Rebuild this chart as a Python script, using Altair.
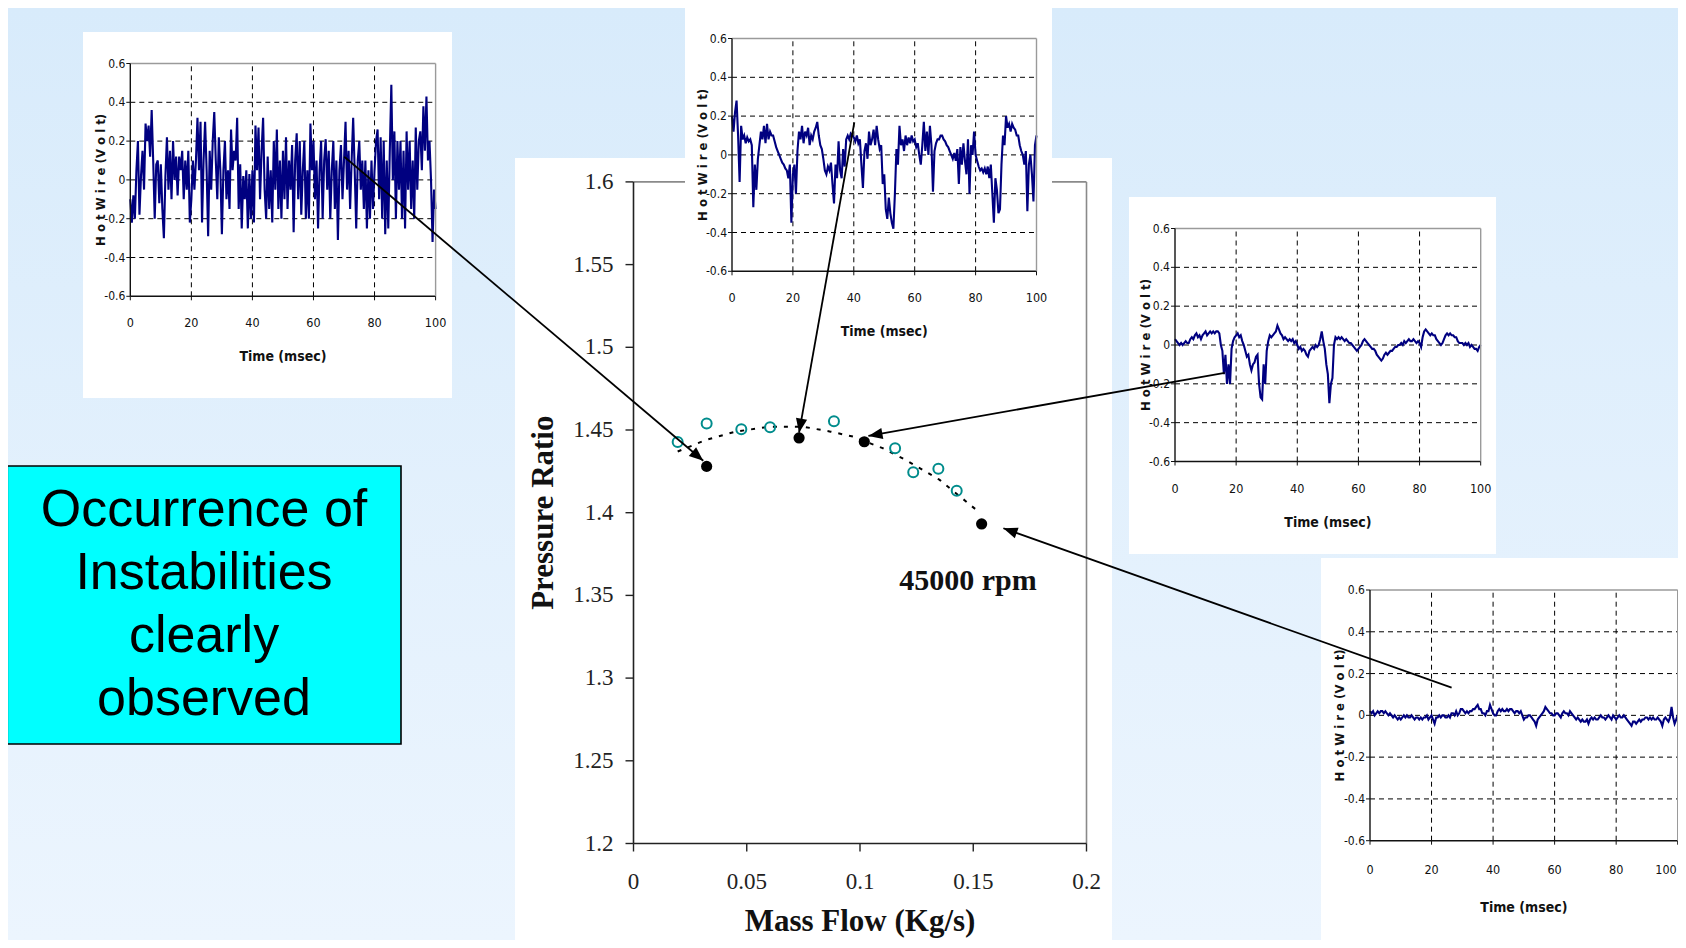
import math
import altair as alt
import pandas as pd
import numpy as np

W, H = 1670, 932
M = 8  # page margin of the html page

# ---------------- main chart data ----------------
mass_open = [0.0195, 0.0323, 0.0476, 0.0603, 0.0885, 0.1155, 0.1235, 0.1346, 0.1427]
pr_open = [1.4427, 1.4540, 1.4504, 1.4516, 1.4553, 1.4389, 1.4244, 1.4266, 1.4133]
mass_filled = [0.0323, 0.0731, 0.1019, 0.1537]
pr_filled = [1.4280, 1.4452, 1.4429, 1.3932]
trend_mass = [0.0195, 0.032, 0.045, 0.06, 0.075, 0.087, 0.097, 0.11, 0.12, 0.135, 0.152]
trend_pr = [1.437, 1.444, 1.449, 1.452, 1.452, 1.449, 1.446, 1.439, 1.432, 1.420, 1.401]

main_xticks = [0, 0.05, 0.1, 0.15, 0.2]
main_xlabels = ["0", "0.05", "0.1", "0.15", "0.2"]
main_yticks = [1.2, 1.25, 1.3, 1.35, 1.4, 1.45, 1.5, 1.55, 1.6]
main_ylabels = ["1.2", "1.25", "1.3", "1.35", "1.4", "1.45", "1.5", "1.55", "1.6"]

# arrows (start in an inset, tip at a measured point), in mass-flow / pressure-ratio units
arrow_x0 = [-0.1277, 0.0975, 0.2610, 0.3612]
arrow_y0 = [1.6152, 1.6360, 1.4846, 1.2942]
arrow_x1 = [0.0308, 0.0731, 0.1037, 0.1633]
arrow_y1 = [1.4314, 1.4484, 1.4464, 1.3906]

box_lines = ["Occurrence of", "Instabilities", "clearly", "observed"]

# ---------------- hot-wire signals (0.5 ms sampling) ----------------
sig1 = [
    -0.10, -0.22, -0.08, -0.20, 0.05, 0.20, -0.18, 0.02, 0.15, -0.05,
    0.29, 0.20, 0.28, 0.12, 0.36, 0.10, -0.20, 0.08, 0.10, -0.12,
    0.08, -0.15, -0.30, 0.02, 0.22, -0.05, 0.15, -0.10, 0.20, 0.00,
    0.12, -0.08, 0.12, 0.05, 0.15, -0.10, 0.10, -0.05, 0.15, -0.22,
    -0.10, 0.10, -0.05, 0.10, 0.32, 0.05, 0.30, -0.22, 0.10, 0.30,
    0.05, -0.29, 0.15, -0.05, 0.20, 0.35, 0.10, -0.10, 0.22, 0.05,
    -0.28, 0.05, 0.20, -0.10, 0.05, -0.15, 0.26, 0.05, 0.15, 0.10,
    0.32, -0.15, 0.08, -0.25, 0.02, -0.10, 0.05, -0.25, 0.03, -0.20,
    0.05, -0.22, 0.28, 0.05, 0.27, -0.10, 0.15, 0.32, -0.05, -0.20,
    0.12, -0.15, 0.05, -0.22, 0.20, -0.05, 0.26, -0.15, 0.10, -0.20,
    0.15, -0.10, 0.22, -0.15, 0.10, -0.05, 0.18, -0.27, 0.10, 0.24,
    -0.10, 0.20, -0.18, 0.05, 0.20, -0.20, 0.05, -0.20, 0.29, 0.05,
    0.20, -0.10, 0.10, -0.25, 0.05, 0.20, -0.20, 0.10, 0.21, -0.05,
    0.15, -0.20, 0.05, 0.20, -0.15, 0.10, -0.31, 0.05, 0.18, -0.10,
    0.10, 0.30, -0.05, 0.15, -0.15, 0.10, 0.32, 0.05, -0.25, 0.10,
    0.20, -0.05, 0.10, -0.15, 0.10, -0.25, 0.05, -0.20, 0.10, -0.15,
    0.05, 0.20, 0.26, -0.10, 0.22, -0.20, 0.20, -0.28, 0.10, -0.25,
    0.15, 0.49, 0.00, 0.25, -0.20, 0.20, -0.05, 0.20, -0.20, 0.15,
    -0.25, 0.25, -0.05, 0.20, -0.15, 0.10, -0.20, 0.27, -0.05, 0.20,
    0.25, 0.05, 0.38, 0.15, 0.43, 0.10, 0.20, 0.00, -0.32, -0.05,
    -0.15,
]
sig2 = [
    0.20, 0.12, 0.22, 0.28, 0.10, -0.14, 0.15, 0.08, 0.10, 0.06,
    0.09, 0.07, 0.08, 0.05, -0.27, -0.05, -0.18, -0.02, 0.05, 0.12,
    0.08, 0.15, 0.06, 0.16, 0.08, 0.12, 0.10, 0.10, 0.07, 0.04,
    0.02, 0.00, -0.02, -0.04, -0.05, -0.07, -0.08, -0.12, -0.05, -0.35,
    -0.10, -0.05, -0.20, 0.02, 0.12, 0.08, 0.15, 0.06, 0.12, 0.10,
    0.14, 0.05, 0.10, 0.08, 0.12, 0.14, 0.17, 0.10, 0.05, 0.03,
    -0.02, -0.08, -0.10, -0.06, -0.08, -0.04, -0.15, -0.25, -0.05, -0.12,
    0.07, -0.08, -0.12, 0.03, -0.06, 0.08, 0.10, 0.08, 0.11, 0.10,
    0.09, 0.07, 0.10, 0.06, 0.08, -0.05, -0.17, 0.02, 0.06, -0.02,
    0.12, 0.05, 0.08, 0.13, 0.05, 0.15, 0.08, 0.03, 0.05, -0.15,
    -0.10, -0.28, -0.33, -0.22, -0.30, -0.35, -0.38, -0.20, 0.03, -0.05,
    0.15, 0.05, 0.08, 0.02, 0.10, 0.05, 0.09, 0.06, 0.10, 0.07,
    0.08, 0.04, 0.06, 0.00, -0.05, 0.05, 0.17, 0.02, 0.12, 0.00,
    0.15, 0.05, -0.19, 0.02, 0.06, 0.08, 0.08, 0.10, 0.10, 0.08,
    0.07, 0.05, 0.04, 0.02, 0.00, -0.02, 0.01, -0.03, 0.03, -0.15,
    0.04, -0.05, 0.06, -0.03, -0.10, 0.08, -0.20, 0.05, 0.00, 0.12,
    0.00, -0.03, -0.06, -0.08, -0.07, -0.09, -0.07, -0.10, -0.06, -0.12,
    -0.05, -0.20, -0.35, -0.12, -0.18, -0.30, -0.28, -0.05, 0.10, 0.05,
    0.20, 0.14, 0.16, 0.12, 0.16, 0.14, 0.13, 0.10, 0.10, 0.05,
    0.02, 0.00, -0.05, 0.02, -0.29, -0.05, 0.00, -0.10, -0.24, 0.05,
    0.10,
]
sig3 = [
    0.03, 0.02, 0.01, 0.00, 0.01, 0.00, 0.01, 0.02, 0.01, 0.01,
    0.03, 0.04, 0.03, 0.05, 0.06, 0.04, 0.05, 0.03, 0.05, 0.06,
    0.07, 0.05, 0.06, 0.07, 0.06, 0.07, 0.06, 0.07, 0.07, 0.06,
    0.00, -0.03, -0.15, -0.05, -0.20, -0.10, -0.20, -0.02, 0.02, 0.04,
    0.05, 0.06, 0.04, 0.05, 0.02, 0.00, -0.03, -0.06, -0.05, -0.10,
    -0.13, -0.10, -0.09, -0.06, -0.05, -0.20, -0.27, -0.28, -0.10, -0.20,
    -0.03, 0.02, 0.05, 0.04, 0.05, 0.06, 0.07, 0.10, 0.08, 0.06,
    0.05, 0.03, 0.04, 0.03, 0.02, 0.03, 0.02, 0.03, 0.01, 0.02,
    0.00, -0.02, -0.01, -0.03, -0.02, -0.03, -0.05, -0.06, -0.03, -0.02,
    -0.01, -0.02, 0.00, -0.01, 0.00, 0.03, 0.07, 0.02, -0.02, -0.10,
    -0.15, -0.30, -0.20, -0.17, 0.00, 0.04, 0.03, 0.04, 0.03, 0.04,
    0.03, 0.02, 0.03, 0.02, 0.01, 0.01, 0.00, -0.01, -0.02, -0.03,
    -0.02, -0.01, 0.00, 0.02, 0.03, 0.02, 0.01, 0.00, -0.01, -0.02,
    -0.02, -0.03, -0.05, -0.06, -0.07, -0.08, -0.07, -0.05, -0.04, -0.05,
    -0.04, -0.03, -0.03, -0.02, -0.01, -0.01, 0.00, 0.00, 0.01, 0.00,
    0.02, 0.01, 0.02, 0.03, 0.02, 0.02, 0.03, 0.02, 0.01, 0.02,
    0.01, -0.01, 0.04, 0.07, 0.08, 0.07, 0.06, 0.05, 0.06, 0.05,
    0.05, 0.03, 0.02, 0.01, 0.00, 0.01, 0.03, 0.05, 0.06, 0.05,
    0.06, 0.05, 0.05, 0.04, 0.04, 0.02, 0.01, 0.01, 0.01, 0.00,
    0.01, 0.00, 0.01, -0.01, 0.00, -0.01, -0.02, -0.02, -0.03, -0.01,
    0.00,
]
sig4 = [
    0.02, 0.01, 0.02, 0.00, 0.01, 0.02, 0.01, 0.02, 0.02, 0.01,
    0.02, 0.01, 0.00, 0.01, 0.00, -0.01, 0.00, -0.01, -0.02, -0.01,
    -0.02, -0.01, 0.00, -0.01, 0.00, -0.01, -0.01, 0.00, -0.01, -0.02,
    -0.01, -0.01, -0.02, -0.01, -0.02, -0.01, -0.01, 0.00, -0.02, -0.01,
    0.00, -0.02, -0.04, -0.01, -0.01, 0.00, -0.01, 0.00, 0.00, -0.01,
    -0.01, 0.00, -0.01, 0.01, 0.01, 0.00, 0.02, 0.00, 0.01, 0.03,
    0.03, 0.02, 0.01, 0.02, 0.01, 0.02, 0.02, 0.03, 0.03, 0.04,
    0.05, 0.03, 0.03, 0.01, 0.01, 0.00, 0.02, 0.02, 0.05, 0.03,
    0.01, 0.00, 0.00, 0.02, 0.03, 0.02, 0.03, 0.02, 0.02, 0.03,
    0.02, 0.03, 0.03, 0.02, 0.01, 0.02, 0.02, 0.01, 0.02, 0.00,
    -0.02, -0.01, -0.01, 0.00, 0.00, -0.01, -0.02, -0.03, -0.05, -0.02,
    -0.01, 0.00, 0.01, 0.02, 0.04, 0.03, 0.02, 0.01, 0.01, 0.00,
    0.00, 0.01, 0.01, 0.00, -0.01, 0.01, 0.02, 0.01, 0.01, 0.00,
    0.02, 0.01, 0.00, -0.01, -0.02, -0.01, -0.02, -0.03, -0.02, -0.03,
    -0.03, -0.02, -0.04, -0.02, -0.01, -0.02, -0.01, -0.02, -0.02, -0.01,
    0.00, -0.01, -0.01, -0.02, -0.01, 0.00, -0.01, -0.02, 0.00, -0.01,
    -0.02, -0.01, 0.00, -0.01, -0.01, 0.00, -0.01, -0.02, -0.03, -0.04,
    -0.05, -0.03, -0.03, -0.04, -0.03, -0.02, -0.03, -0.02, -0.02, -0.01,
    -0.01, -0.02, -0.01, -0.02, -0.01, -0.02, -0.02, -0.01, -0.02, -0.03,
    -0.05, -0.02, -0.01, -0.02, -0.03, -0.01, 0.04, -0.01, -0.04, -0.02,
    0.00,
]
time_ms = list(np.arange(len(sig1)) * 0.5)  # sampling grid

inset_xticks = [0, 20, 40, 60, 80, 100]
inset_xlabels = ["0", "20", "40", "60", "80", "100"]
inset_yticks = [-0.6, -0.4, -0.2, 0, 0.2, 0.4, 0.6]
inset_ylabels = ["-0.6", "-0.4", "-0.2", "0", "0.2", "0.4", "0.6"]
inset_xgrid = [20, 40, 60, 80]
inset_ygrid = [-0.4, -0.2, 0, 0.2, 0.4]

# ---------------- layout (window pixels) ----------------
SERIF = "Liberation Serif, Times New Roman, serif"
NARROW = "Liberation Sans Narrow, Arial Narrow, DejaVu Sans Condensed, Roboto Condensed, Liberation Sans, Arial, sans-serif"
SANS = "Liberation Sans, Arial, sans-serif"

MAIN_X = (633.5, 1086.5)      # 0 -> 0.2
MAIN_Y = (843.5, 181.9)       # 1.2 -> 1.6
MAIN_PANEL = (515, 158, 1112, 948)

INSETS = [
    dict(sig=sig1, plot=(130.3, 435.6, 63.5, 296.3), panel=(83, 32, 452, 398), xl=27, tt=61, yt=-29, edge=False),
    dict(sig=sig2, plot=(732.0, 1036.5, 38.5, 271.3), panel=(685, 5, 1052, 345), xl=27, tt=61, yt=-29, edge=False),
    dict(sig=sig3, plot=(1175.0, 1480.7, 228.5, 461.5), panel=(1129, 197, 1496, 554), xl=27, tt=61, yt=-29, edge=False),
    dict(sig=sig4, plot=(1370.0, 1677.7, 590.0, 840.7), panel=(1321, 558, 1686, 948), xl=29, tt=67, yt=-30, edge=True),
]

one = pd.DataFrame({"k": [0]})


def rect_px(box, **kw):
    return alt.Chart(one).mark_rect(**kw).encode(
        x=alt.value(box[0] - M), x2=alt.value(box[2] - M),
        y=alt.value(box[1] - M), y2=alt.value(box[3] - M))


def make_inset(cfg):
    x0, x1, yt, yb = cfg["plot"]
    xs = alt.Scale(domain=[0, 100], range=[x0 - M, x1 - M], nice=False, zero=False)
    ys = alt.Scale(domain=[-0.6, 0.6], range=[yb - M, yt - M], nice=False, zero=False)

    def X(f):
        return alt.X(f, type="quantitative", scale=xs, axis=None)

    def Y(f):
        return alt.Y(f, type="quantitative", scale=ys, axis=None)

    panel = rect_px(cfg["panel"], fill="white")
    vg = alt.Chart(pd.DataFrame({"t": inset_xgrid, "lo": -0.6, "hi": 0.6})).mark_rule(
        color="black", strokeDash=[5, 4], strokeWidth=1).encode(x=X("t"), y=Y("lo"), y2="hi")
    hg = alt.Chart(pd.DataFrame({"v": inset_ygrid, "lo": 0, "hi": 100})).mark_rule(
        color="black", strokeDash=[5, 4], strokeWidth=1).encode(y=Y("v"), x=X("lo"), x2="hi")
    sig = alt.Chart(pd.DataFrame({"t": time_ms, "v": cfg["sig"]})).mark_line(
        color="#000080", strokeWidth=2.1).encode(x=X("t"), y=Y("v"))
    frame = alt.Chart(pd.DataFrame({
        "xa": [0, 0, 0, 100], "xb": [100, 0, 100, 100],
        "ya": [0.6, -0.6, -0.6, -0.6], "yb": [0.6, 0.6, -0.6, 0.6],
        "c": ["#9a9a9a", "#111111", "#111111", "#9a9a9a"]})).mark_rule(strokeWidth=1.4).encode(
        x=X("xa"), x2="xb", y=Y("ya"), y2="yb", color=alt.Color("c:N", scale=None))
    ytk = alt.Chart(pd.DataFrame({"v": inset_yticks, "z": 0})).mark_rule(
        color="#111", strokeWidth=1, x2Offset=-4).encode(x=X("z"), x2="z", y=Y("v"))
    xtk = alt.Chart(pd.DataFrame({"v": inset_xticks, "z": -0.6})).mark_rule(
        color="#111", strokeWidth=1, y2Offset=4).encode(y=Y("z"), y2="z", x=X("v"))
    ylab = alt.Chart(pd.DataFrame({"v": inset_yticks, "z": 0, "lab": inset_ylabels})).mark_text(
        font=NARROW, fontSize=12, align="right", baseline="middle", dx=-5, color="#111").encode(
        x=X("z"), y=Y("v"), text="lab:N")
    n_mid = len(inset_xticks) - 1 if cfg["edge"] else len(inset_xticks)
    xlab = alt.Chart(pd.DataFrame({"v": inset_xticks[:n_mid], "z": -0.6,
                                   "lab": inset_xlabels[:n_mid]})).mark_text(
        font=NARROW, fontSize=12.5, align="center", baseline="middle", dy=cfg["xl"], color="#111").encode(
        x=X("v"), y=Y("z"), text="lab:N")
    parts = [panel, hg, vg, sig, frame, ytk, xtk, ylab, xlab]
    if cfg["edge"]:
        # last label sits on the window edge: keep it inside the picture
        parts.append(alt.Chart(pd.DataFrame({"v": inset_xticks[-1:], "z": -0.6,
                                             "lab": inset_xlabels[-1:]})).mark_text(
            font=NARROW, fontSize=12.5, align="right", baseline="middle", dy=cfg["xl"], dx=-1,
            color="#111").encode(x=X("v"), y=Y("z"), text="lab:N"))
    xt = alt.Chart(pd.DataFrame({"v": [50], "z": [-0.6], "lab": ["Time (msec)"]})).mark_text(
        font=NARROW, fontSize=14, fontWeight="bold", align="center", baseline="middle",
        dy=cfg["tt"], color="#111").encode(x=X("v"), y=Y("z"), text="lab:N")
    # rotated text: dy (in the rotated frame) moves it horizontally
    yttl = alt.Chart(pd.DataFrame({"v": [0], "z": [0], "lab": ["H o t W i r e (V o l t)"]})).mark_text(
        font=NARROW, fontSize=13, fontWeight="bold", align="center", baseline="middle",
        angle=270, dy=cfg["yt"], color="#111").encode(x=X("z"), y=Y("v"), text="lab:N")
    parts += [xt, yttl]
    return alt.layer(*parts)


# ---------------- main chart ----------------
mxs = alt.Scale(domain=[0, 0.2], range=[MAIN_X[0] - M, MAIN_X[1] - M], nice=False, zero=False)
mys = alt.Scale(domain=[1.2, 1.6], range=[MAIN_Y[0] - M, MAIN_Y[1] - M], nice=False, zero=False)


def MX(f):
    return alt.X(f, type="quantitative", scale=mxs, axis=None)


def MY(f):
    return alt.Y(f, type="quantitative", scale=mys, axis=None)


main_panel = rect_px(MAIN_PANEL, fill="white")
main_frame = alt.Chart(pd.DataFrame({
    "xa": [0, 0.2, 0, 0], "xb": [0.2, 0.2, 0, 0.2],
    "ya": [1.6, 1.2, 1.2, 1.2], "yb": [1.6, 1.6, 1.6, 1.2],
    "c": ["#8a8a8a", "#8a8a8a", "#222222", "#222222"]})).mark_rule(strokeWidth=1.6).encode(
    x=MX("xa"), x2="xb", y=MY("ya"), y2="yb", color=alt.Color("c:N", scale=None))
main_ytk = alt.Chart(pd.DataFrame({"v": main_yticks, "z": 0})).mark_rule(
    color="#222", strokeWidth=1.4, x2Offset=-8).encode(x=MX("z"), x2="z", y=MY("v"))
main_xtk = alt.Chart(pd.DataFrame({"v": main_xticks, "z": 1.2})).mark_rule(
    color="#222", strokeWidth=1.4, y2Offset=8).encode(y=MY("z"), y2="z", x=MX("v"))
main_ylab = alt.Chart(pd.DataFrame({"v": main_yticks, "z": 0, "lab": main_ylabels})).mark_text(
    font=SERIF, fontSize=23, align="right", baseline="middle", dx=-20, color="#222").encode(
    x=MX("z"), y=MY("v"), text="lab:N")
main_xlab = alt.Chart(pd.DataFrame({"v": main_xticks, "z": 1.2, "lab": main_xlabels})).mark_text(
    font=SERIF, fontSize=23, align="center", baseline="middle", dy=38, color="#222").encode(
    x=MX("v"), y=MY("z"), text="lab:N")
main_xt = alt.Chart(pd.DataFrame({"v": [0.1], "z": [1.2], "lab": ["Mass Flow (Kg/s)"]})).mark_text(
    font=SERIF, fontSize=31, fontWeight="bold", align="center", baseline="middle", dy=78,
    color="#111").encode(x=MX("v"), y=MY("z"), text="lab:N")
main_yt = alt.Chart(pd.DataFrame({"v": [1.4], "z": [0], "lab": ["Pressure Ratio"]})).mark_text(
    font=SERIF, fontSize=31, fontWeight="bold", align="center", baseline="middle", dy=-90,
    angle=270, color="#111").encode(x=MX("z"), y=MY("v"), text="lab:N")
rpm = alt.Chart(pd.DataFrame({"v": [0.1477], "w": [1.359], "lab": ["45000 rpm"]})).mark_text(
    font=SERIF, fontSize=30, fontWeight="bold", align="center", baseline="middle",
    color="#111").encode(x=MX("v"), y=MY("w"), text="lab:N")
trend = alt.Chart(pd.DataFrame({"m": trend_mass, "p": trend_pr})).mark_line(
    color="black", strokeWidth=2, strokeDash=[4, 7]).encode(x=MX("m"), y=MY("p"))
opens = alt.Chart(pd.DataFrame({"m": mass_open, "p": pr_open})).mark_point(
    shape="circle", filled=False, color="#008c8c", strokeWidth=2, size=100, opacity=1).encode(
    x=MX("m"), y=MY("p"))
fills = alt.Chart(pd.DataFrame({"m": mass_filled, "p": pr_filled})).mark_point(
    shape="circle", filled=True, color="black", size=125, opacity=1).encode(x=MX("m"), y=MY("p"))

main = alt.layer(main_panel, main_frame, main_ytk, main_xtk, main_ylab, main_xlab,
                 main_xt, main_yt, rpm, trend, opens, fills)

# ---------------- arrows (same scales as the main chart) ----------------
sx = (MAIN_X[1] - MAIN_X[0]) / 0.2
sy = (MAIN_Y[0] - MAIN_Y[1]) / 0.4
angles = []
for a, b, c, d in zip(arrow_x0, arrow_y0, arrow_x1, arrow_y1):
    dxp = (c - a) * sx
    dyp = -(d - b) * sy
    angles.append(math.degrees(math.atan2(dxp, -dyp)) % 360)
adf = pd.DataFrame({"xa": arrow_x0, "ya": arrow_y0, "xb": arrow_x1, "yb": arrow_y1, "ang": angles})
ax_s = alt.Scale(domain=[0, 0.2], range=[MAIN_X[0] - M, MAIN_X[1] - M], nice=False, zero=False)
ay_s = alt.Scale(domain=[1.2, 1.6], range=[MAIN_Y[0] - M, MAIN_Y[1] - M], nice=False, zero=False)
a_lines = alt.Chart(adf).mark_rule(color="black", strokeWidth=1.8).encode(
    x=alt.X("xa:Q", scale=ax_s, axis=None), x2="xb", y=alt.Y("ya:Q", scale=ay_s, axis=None), y2="yb")
a_heads = alt.Chart(adf).mark_point(
    shape="M0,0L0.8,2L-0.8,2Z", filled=True, color="black", size=200, opacity=1).encode(
    x=alt.X("xb:Q", scale=ax_s, axis=None), y=alt.Y("yb:Q", scale=ay_s, axis=None),
    angle=alt.Angle("ang:Q", scale=None))
arrows = alt.layer(a_lines, a_heads)

# ---------------- background & text box ----------------
bg = alt.Chart(one).mark_rect(fill=alt.Gradient(
    gradient="linear", x1=0, y1=0, x2=0, y2=1,
    stops=[alt.GradientStop(color="#d8ebfb", offset=0),
           alt.GradientStop(color="#ecf5fe", offset=1)])).encode(
    x=alt.value(0), x2=alt.value(W), y=alt.value(0), y2=alt.value(H))

box = rect_px((7.3, 466, 401, 744), fill="#00ffff", stroke="black", strokeWidth=1.6)
box_text = alt.Chart(pd.DataFrame({"lab": ["\n".join(box_lines)]})).mark_text(
    font=SANS, fontSize=52, lineBreak="\n", lineHeight=63, align="center", baseline="middle",
    dy=-95, color="black").encode(x=alt.value(204 - M), y=alt.value(605 - M), text="lab:N")

layers = [bg, box, box_text, main] + [make_inset(c) for c in INSETS] + [arrows]

chart = alt.layer(*layers).resolve_scale(x="independent", y="independent").properties(
    width=W, height=H, padding=0, autosize=alt.AutoSizeParams(type="none")
).configure_view(stroke=None)

chart.save("out.html", embed_options={"renderer": "svg", "actions": False})
